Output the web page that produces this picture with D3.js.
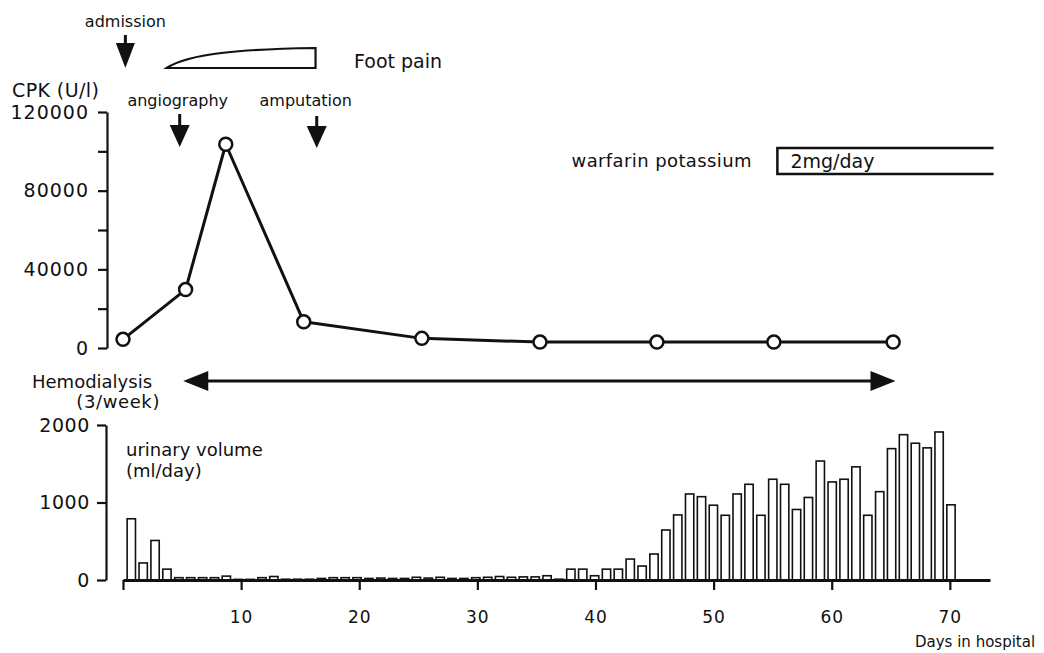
<!DOCTYPE html>
<html>
<head>
<meta charset="utf-8">
<script src="https://cdn.jsdelivr.net/npm/d3@7"></script>
<style>
    body { margin: 0; background: #fff; }
    svg { display: block; font-family: "DejaVu Sans", sans-serif; }
</style>
</head>
<body>
<svg id="chart" width="1044" height="653"></svg>
<script>
// CPK measurements (day in hospital, U/l)
const cpkDays = [0, 5.3, 8.7, 15.3, 25.3, 35.3, 45.2, 55.1, 65.2]
const cpkValues = [4400, 29700, 103600, 13300, 4900, 3000, 3000, 3000, 3000]

// daily urinary volume (ml/day), days 1..70
const urineDays = [1, 2, 3, 4, 5, 6, 7, 8, 9, 10, 11, 12, 13, 14, 15, 16, 17, 18, 19, 20,
    21, 22, 23, 24, 25, 26, 27, 28, 29, 30, 31, 32, 33, 34, 35, 36, 37, 38, 39, 40,
    41, 42, 43, 44, 45, 46, 47, 48, 49, 50, 51, 52, 53, 54, 55, 56, 57, 58, 59, 60,
    61, 62, 63, 64, 65, 66, 67, 68, 69, 70]
const urineValues = [790, 220, 510, 140, 30, 30, 30, 30, 50, 8,
    8, 30, 45, 10, 10, 10, 20, 30, 30, 30,
    20, 25, 20, 20, 35, 25, 35, 20, 20, 30,
    35, 45, 35, 40, 40, 55, 10, 140, 140, 55,
    140, 140, 270, 180, 335, 645, 840, 1110, 1075, 965,
    835, 1110, 1235, 835, 1300, 1235, 910, 1065, 1535, 1265,
    1300, 1460, 835, 1140, 1695, 1875, 1765, 1705, 1910, 970]

const cpkTicks = [0, 20000, 40000, 60000, 80000, 100000, 120000]
const cpkTickLabels = ["0", "", "40000", "", "80000", "", "120000"]
const urineTicks = [0, 1000, 2000]
const dayTicks = [0, 10, 20, 30, 40, 50, 60, 70]
const dayTickLabels = ["", "10", "20", "30", "40", "50", "60", "70"]

// clinical events
const eventNames = ["admission", "angiography", "amputation"]
const eventDays = [0.2, 4.8, 16.4]
const footPainDays = [3.7, 16.3]
const warfarinDays = [55.4, 73.7]
const dialysisDays = [5.1, 65.4]

const svg = d3.select("#chart")
const ink = "#111"

const x = d3.scaleLinear().domain([0, 73.4]).range([123, 990])
const yCpk = d3.scaleLinear().domain([0, 120000]).range([348, 112])
const yUrine = d3.scaleLinear().domain([0, 2000]).range([580, 425])

function styleAxis(g, fontSize, spacing) {
    g.attr("font-family", null).attr("font-size", null)
    g.select(".domain").attr("stroke", ink).attr("stroke-width", 2.2)
    g.selectAll(".tick line").attr("stroke", ink).attr("stroke-width", 2.2)
    g.selectAll(".tick text")
        .attr("fill", ink)
        .style("font-size", fontSize + "px")
        .style("letter-spacing", spacing + "px")
}

function addText(str, px, py, size, anchor) {
    return svg.append("text")
        .attr("x", px)
        .attr("y", py)
        .attr("fill", ink)
        .attr("text-anchor", anchor || "start")
        .style("font-size", size + "px")
        .text(str)
}

// filled down arrow used for the events
function downArrow(cx, yTop, yTip, headLen, half) {
    svg.append("line")
        .attr("x1", cx).attr("x2", cx)
        .attr("y1", yTop).attr("y2", yTip - headLen + 1)
        .attr("stroke", ink).attr("stroke-width", 3)
    svg.append("path")
        .attr("d", "M" + (cx - half) + "," + (yTip - headLen) + "L" + (cx + half) + "," + (yTip - headLen) + "L" + cx + "," + yTip + "Z")
        .attr("fill", ink)
}

// ---- top panel: CPK ----
let cpkAxis = svg.append("g")
    .attr("transform", "translate(107,0)")
    .call(d3.axisLeft(yCpk)
        .tickValues(cpkTicks)
        .tickFormat(function (d, i) { return cpkTickLabels[i] })
        .tickSize(9)
        .tickSizeOuter(0)
        .tickPadding(9))
styleAxis(cpkAxis, 19, 1)

addText("CPK (U/l)", 12, 97, 19).style("letter-spacing", "0.4px")

let cpkData = d3.zip(cpkDays, cpkValues)
let line = d3.line()
    .x(function (d) { return x(d[0]) })
    .y(function (d) { return yCpk(d[1]) })

svg.append("path")
    .datum(cpkData)
    .attr("d", line)
    .attr("fill", "none")
    .attr("stroke", ink)
    .attr("stroke-width", 3)
    .attr("stroke-linejoin", "round")

svg.selectAll(".cpkPoint")
    .data(cpkData)
    .enter()
    .append("circle")
    .attr("class", "cpkPoint")
    .attr("cx", function (d) { return x(d[0]) })
    .attr("cy", function (d) { return yCpk(d[1]) })
    .attr("r", 6.5)
    .attr("fill", "#fff")
    .attr("stroke", ink)
    .attr("stroke-width", 2.5)

// event arrows
downArrow(x(eventDays[0]), 35, 68, 25, 9.5)
addText(eventNames[0], x(eventDays[0]), 27, 16, "middle")
downArrow(x(eventDays[1]), 114, 147, 22, 10)
addText(eventNames[1], x(eventDays[1]) - 2, 106, 16, "middle")
downArrow(x(eventDays[2]), 116, 148, 22, 10)
addText(eventNames[2], x(eventDays[2]) - 11, 106, 16, "middle")

// foot pain wedge
let fp0 = x(footPainDays[0]), fp1 = x(footPainDays[1])
svg.append("path")
    .attr("d", "M" + fp0 + ",68 C" + (fp0 + 22) + ",53 " + (fp0 + 80) + ",49 " + fp1 + ",48 V68 Z")
    .attr("fill", "#fff")
    .attr("stroke", ink)
    .attr("stroke-width", 2.2)
addText("Foot pain", 354, 68, 19)

// warfarin bar, open on the right
let w0 = x(warfarinDays[0]), w1 = x(warfarinDays[1])
svg.append("path")
    .attr("d", "M" + w1 + ",148 H" + w0 + " V174 H" + w1)
    .attr("fill", "none")
    .attr("stroke", ink)
    .attr("stroke-width", 2.5)
addText("2mg/day", w0 + 13, 168, 19)
addText("warfarin potassium", 752, 167, 18, "end").style("letter-spacing", "0.4px")

// hemodialysis double arrow
let h0 = x(dialysisDays[0]), h1 = x(dialysisDays[1])
svg.append("line")
    .attr("x1", h0 + 20).attr("x2", h1 - 20)
    .attr("y1", 381).attr("y2", 381)
    .attr("stroke", ink).attr("stroke-width", 3)
svg.append("path")
    .attr("d", "M" + h0 + ",381 L" + (h0 + 25) + ",371 L" + (h0 + 25) + ",391 Z")
    .attr("fill", ink)
svg.append("path")
    .attr("d", "M" + h1 + ",381 L" + (h1 - 25) + ",371 L" + (h1 - 25) + ",391 Z")
    .attr("fill", ink)
addText("Hemodialysis", 32, 388, 18)
addText("(3/week)", 160, 408, 18, "end").style("letter-spacing", "0.6px")

// ---- bottom panel: urinary volume ----
let band = d3.scaleBand()
    .domain(urineDays)
    .range([x(0.05), x(70.75)])
    .padding(0.3)

svg.selectAll(".urineBar")
    .data(d3.zip(urineDays, urineValues))
    .enter()
    .append("rect")
    .attr("class", "urineBar")
    .attr("x", function (d) { return band(d[0]) })
    .attr("y", function (d) { return yUrine(d[1]) })
    .attr("width", band.bandwidth())
    .attr("height", function (d) { return yUrine(0) - yUrine(d[1]) })
    .attr("fill", "#fff")
    .attr("stroke", ink)
    .attr("stroke-width", 1.6)

let urineAxis = svg.append("g")
    .attr("transform", "translate(106,0)")
    .call(d3.axisLeft(yUrine)
        .tickValues(urineTicks)
        .tickFormat(d3.format("d"))
        .tickSize(9)
        .tickSizeOuter(0)
        .tickPadding(7))
styleAxis(urineAxis, 19, 0.6)

let dayAxis = svg.append("g")
    .attr("transform", "translate(0,580)")
    .call(d3.axisBottom(x)
        .tickValues(dayTicks)
        .tickFormat(function (d, i) { return dayTickLabels[i] })
        .tickSize(10)
        .tickSizeOuter(0)
        .tickPadding(21))
styleAxis(dayAxis, 17, 1)
dayAxis.select(".domain").attr("stroke-width", 3)

addText("urinary volume", 126, 456, 18)
addText("(ml/day)", 126, 477, 18)
addText("Days in hospital", 915, 647, 15)
</script>
</body>
</html>
